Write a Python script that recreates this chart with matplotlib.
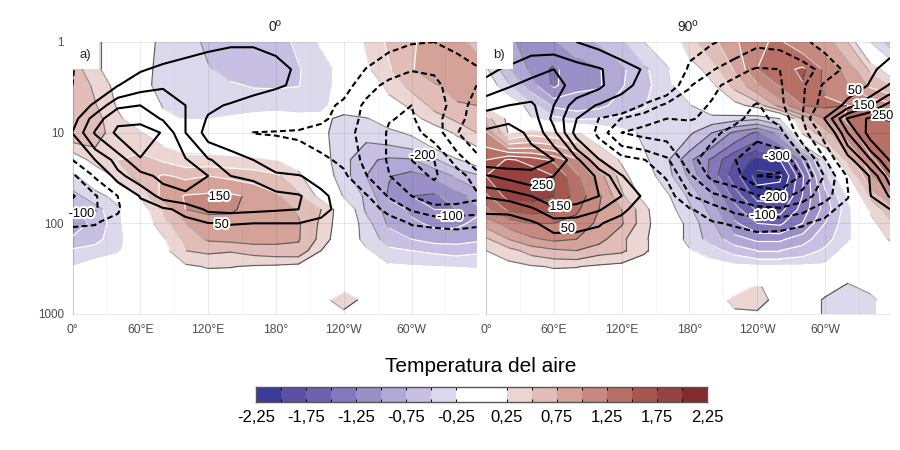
#!/usr/bin/env python3
"""Temperature and geopotential anomaly cross sections, lon vs pressure."""

import matplotlib
matplotlib.use("Agg")
import matplotlib.pyplot as plt
import matplotlib.patheffects as pe
from matplotlib.collections import LineCollection
from matplotlib.colors import ListedColormap, BoundaryNorm
import numpy as np

plt.rcParams["font.family"] = ["Liberation Sans", "DejaVu Sans"]

lon = [0, 20, 40, 60, 80, 100, 120, 140, 160, 180, 200, 220, 240, 260, 280, 300, 320, 340, 357.5]
lev = [1, 2, 3, 5, 7, 10, 20, 30, 50, 70, 100, 150, 200, 300, 500, 700, 1000]

# air temperature, panel a
temp_a = [
    [.6, .3, .1, -.15, -.3, -.4, -.55, -.65, -.7, -.6, -.45, -.22, .0, .3, .55, .72, .85, .8, .7],
    [.65, .3, .1, -.15, -.33, -.4, -.48, -.58, -.62, -.6, -.52, -.35, -.15, .2, .47, .73, .9, .95, .85],
    [.7, .45, .15, -.18, -.32, -.38, -.42, -.47, -.52, -.53, -.51, -.32, -.18, .03, .33, .58, .72, .85, .9],
    [.7, .52, .22, .05, -.27, -.3, -.33, -.35, -.34, -.32, -.31, -.3, -.15, .0, .13, .3, .58, .72, .75],
    [.75, .6, .3, .08, -.17, -.27, -.26, -.22, -.17, -.15, -.2, -.2, -.3, -.27, -.1, .15, .38, .55, .6],
    [.7, .6, .38, .27, .1, .0, .0, -.05, -.05, -.05, -.1, -.2, -.35, -.42, -.32, -.2, .05, .3, .5],
    [.0, .38, .5, .6, .47, .35, .35, .33, .3, .25, .15, -.12, -.42, -.7, -.8, -.78, -.55, -.28, -.1],
    [-.3, -.05, .35, .6, .78, .7, .75, .7, .65, .55, .3, -.05, -.4, -.75, -.98, -1.1, -.95, -.7, -.55],
    [-.6, -.35, -.15, .28, .85, 1.02, 1.05, 1.05, .95, .8, .55, .15, -.27, -.55, -1.05, -1.25, -1.3, -1.1, -.9],
    [-.8, -.6, -.3, .08, .55, 1.0, 1.05, 1.02, .95, .85, .72, .5, .05, -.55, -.85, -1.05, -1.25, -1.25, -1.05],
    [-.85, -.7, -.32, .05, .4, .75, .9, .95, .9, .85, .78, .45, .05, -.4, -.8, -.95, -1.05, -1.05, -.95],
    [-.72, -.58, -.35, .0, .2, .6, .78, .82, .85, .82, .77, .42, .0, -.35, -.6, -.75, -.85, -.85, -.8],
    [-.45, -.4, -.3, .0, .15, .5, .55, .52, .6, .65, .68, .25, .0, -.2, -.45, -.5, -.55, -.6, -.55],
    [-.25, -.1, 0, 0, 0, .2, .27, .26, .22, .2, .15, .1, -.05, -.12, -.2, -.23, -.25, -.26, -.27],
    [0, 0, 0, 0, 0, 0, 0, 0, 0, 0, 0, .05, .16, .05, 0, 0, 0, 0, 0],
    [0, 0, 0, 0, 0, 0, 0, 0, 0, 0, 0, .14, .42, .14, 0, 0, 0, 0, 0],
    [0, 0, 0, 0, 0, 0, 0, 0, 0, 0, 0, .05, .16, .05, 0, 0, 0, 0, 0],
]

# air temperature, panel b
temp_b = [
    [-.75, -.95, -1.1, -1.02, -.9, -.72, -.55, -.25, -.02, .4, .68, .95, 1.22, 1.28, 1.1, .88, .5, -.25, -.6],
    [-.2, -.72, -1.05, -1.3, -1.1, -1.02, -.8, -.55, -.3, .1, .38, .78, 1.25, 1.4, 1.55, 1.2, .9, .45, .05],
    [-.05, -.45, -.9, -1.3, -1.05, -1.03, -.77, -.6, -.3, -.1, .2, .58, .95, 1.28, 1.48, 1.2, 1.0, .7, .55],
    [.15, .05, -.4, -.8, -.88, -.82, -.65, -.52, -.28, -.27, .0, .15, .37, .85, 1.25, 1.3, 1.25, 1.2, 1.1],
    [.6, .18, -.22, -.42, -.55, -.5, -.45, -.4, -.3, -.3, -.35, -.4, -.45, -.25, .55, 1.0, 1.3, 1.4, 1.45],
    [1.05, .22, .4, .35, .28, .05, -.15, -.3, -.35, -.45, -.75, -1.05, -1.3, -.9, .3, .65, 1.15, 1.4, 1.5],
    [1.5, 1.8, 1.65, 1.45, 1.05, .55, .2, -.2, -.45, -.95, -1.3, -1.75, -2.1, -2.0, -1.25, -.25, .6, 1.2, 1.4],
    [1.75, 2.0, 1.95, 1.75, 1.3, .85, .4, -.1, -.4, -.8, -1.35, -1.9, -2.35, -2.3, -1.55, -.6, .2, 1.0, 1.3],
    [1.45, 1.85, 1.85, 1.75, 1.4, 1.05, .55, .15, -.2, -.55, -1.0, -1.6, -2.1, -2.1, -1.5, -.85, -.2, .55, .95],
    [1.2, 1.55, 1.6, 1.55, 1.3, 1.0, .75, .35, -.12, -.45, -.85, -1.4, -1.8, -1.85, -1.4, -.9, -.35, .3, .65],
    [.85, 1.1, 1.25, 1.25, 1.15, .95, .78, .35, .0, -.35, -.7, -1.2, -1.5, -1.55, -1.25, -.75, -.33, .15, .45],
    [.45, .75, .95, 1.05, 1.0, .85, .55, .3, .0, -.35, -.6, -.9, -1.05, -1.05, -.85, -.6, -.3, .0, .28],
    [.25, .4, .6, .7, .75, .6, .55, .3, .0, -.22, -.4, -.6, -.75, -.75, -.65, -.45, -.15, 0, 0],
    [.1, .15, .22, .27, .26, .2, .15, .05, 0, 0, -.1, -.18, -.2, -.2, -.2, -.2, -.05, 0, 0],
    [0, 0, 0, 0, 0, 0, 0, 0, 0, 0, 0, .1, .3, .05, 0, -.1, -.3, -.15, 0],
    [0, 0, 0, 0, 0, 0, 0, 0, 0, 0, .05, .35, .38, .12, 0, -.3, -.4, -.35, -.05],
    [0, 0, 0, 0, 0, 0, 0, 0, 0, 0, .05, .18, .2, .05, 0, -.3, -.4, -.35, -.05],
]

# geopotential height, panel a
hgt_a = [
    [-30, -10, 0, 10, 20, 30, 40, 45, 45, 35, 20, 5, -5, -20, -35, -47, -50, -40, -25],
    [-52, -20, 25, 45, 60, 70, 75, 80, 80, 70, 40, 10, -15, -52, -85, -98, -95, -70, -55],
    [-50, 10, 48, 80, 95, 90, 85, 80, 70, 58, 40, 10, -25, -85, -110, -120, -110, -80, -50],
    [10, 60, 140, 150, 130, 100, 60, 45, 25, 5, -5, -25, -65, -110, -145, -150, -130, -75, -30],
    [25, 125, 190, 180, 145, 100, 45, 25, 10, 0, -20, -40, -70, -115, -148, -155, -120, -65, -30],
    [52, 155, 210, 235, 195, 100, 30, 15, -52, -56, -58, -70, -85, -115, -155, -165, -130, -52, -25],
    [-50, 50, 120, 195, 197, 155, 105, 75, 50, 20, -20, -40, -60, -115, -155, -200, -200, -130, -62],
    [-110, -45, 85, 130, 165, 175, 150, 100, 92, 60, 55, 20, -40, -98, -148, -185, -205, -175, -125],
    [-155, -105, -50, 55, 120, 140, 145, 150, 130, 115, 105, 70, 10, -45, -105, -150, -175, -175, -160],
    [-125, -105, -60, 20, 40, 65, 110, 115, 110, 105, 100, 75, 20, -25, -65, -105, -135, -130, -125],
    [-55, -52, -25, 5, 20, 35, 48, 52, 50, 50, 50, 30, 10, -10, -25, -53, -58, -60, -55],
    [-30, -30, -15, 0, 10, 15, 20, 25, 25, 25, 25, 15, 5, -5, -12, -20, -25, -30, -30],
    [-15, -15, -8, 0, 5, 8, 10, 12, 12, 12, 12, 8, 2, -2, -6, -10, -12, -15, -15],
    [-5, -5, -2, 0, 2, 2, 4, 4, 4, 4, 4, 2, 0, 0, -2, -3, -4, -5, -5],
    [0, 0, 0, 0, 0, 0, 0, 0, 0, 0, 0, 0, 0, 0, 0, 0, 0, 0, 0],
    [0, 0, 0, 0, 0, 0, 0, 0, 0, 0, 0, 0, 0, 0, 0, 0, 0, 0, 0],
    [0, 0, 0, 0, 0, 0, 0, 0, 0, 0, 0, 0, 0, 0, 0, 0, 0, 0, 0],
]

# geopotential height, panel b
hgt_b = [
    [45, 55, 75, 70, 50, 35, 15, -5, -20, -35, -47, -60, -90, -85, -58, -35, -10, 15, 30],
    [85, 110, 135, 150, 125, 105, 75, 45, 10, -58, -95, -135, -155, -150, -125, -80, -38, 40, 70],
    [118, 145, 165, 165, 135, 110, 65, 35, 0, -95, -140, -165, -170, -155, -108, -40, 10, 55, 105],
    [185, 200, 210, 150, 75, 45, 25, -60, -115, -130, -155, -175, -205, -160, -105, -20, 75, 145, 225],
    [225, 240, 230, 135, 52, -52, -102, -135, -150, -148, -155, -190, -215, -185, -100, 55, 205, 260, 245],
    [260, 270, 240, 165, 30, -70, -150, -165, -170, -165, -190, -215, -238, -215, -120, -25, 150, 275, 280],
    [285, 285, 270, 250, 165, 55, -25, -48, -90, -185, -225, -248, -285, -285, -215, -105, 20, 145, 255],
    [195, 215, 235, 200, 190, 140, 55, -25, -55, -140, -215, -230, -300, -305, -245, -145, -45, 55, 180],
    [105, 120, 150, 185, 170, 150, 100, 40, -25, -95, -135, -165, -195, -220, -175, -120, -55, 48, 105],
    [60, 60, 90, 140, 135, 105, 65, 15, -15, -45, -75, -115, -135, -140, -115, -70, -25, 20, 50],
    [25, 30, 40, 75, 70, 55, 25, 5, -5, -25, -45, -55, -70, -65, -55, -35, -10, 5, 15],
    [10, 15, 20, 30, 30, 25, 15, 5, 0, -10, -20, -25, -30, -30, -25, -15, -5, 5, 8],
    [5, 8, 10, 15, 15, 12, 8, 2, 0, -5, -10, -12, -15, -15, -12, -8, -2, 2, 4],
    [2, 2, 4, 4, 4, 4, 2, 0, 0, -2, -3, -4, -5, -5, -4, -2, 0, 0, 0],
    [0, 0, 0, 0, 0, 0, 0, 0, 0, 0, 0, 0, 0, 0, 0, 0, 0, 0, 0],
    [0, 0, 0, 0, 0, 0, 0, 0, 0, 0, 0, 0, 0, 0, 0, 0, 0, 0, 0],
    [0, 0, 0, 0, 0, 0, 0, 0, 0, 0, 0, 0, 0, 0, 0, 0, 0, 0, 0],
]

temp_levels = [-2.25, -2, -1.75, -1.5, -1.25, -1, -.75, -.5, -.25, .25, .5, .75, 1, 1.25, 1.5, 1.75, 2, 2.25]
temp_colors = ["#3A3A98", "#5A50A4", "#6E62B0", "#8477BC", "#9A8FC7", "#B1A8D6", "#C8C0E3", "#DDD9ED", "#FFFFFF",
               "#ECD6D3", "#E2BDB7", "#D5A29A", "#C6897F", "#B67065", "#A6584F", "#964240", "#832A2A"]
cbar_ticks = [-2.25, -1.75, -1.25, -.75, -.25, .25, .75, 1.25, 1.75, 2.25]
hgt_levels = [-350, -300, -250, -200, -150, -100, -50, 50, 100, 150, 200, 250, 300]

lon_ticks = [0, 60, 120, 180, 240, 300]
lon_minor = [30, 90, 150, 210, 270, 330]
lon_labels = ["0°", "60°E", "120°E", "180°", "120°W", "60°W"]
lev_ticks = [1, 10, 100, 1000]

labels_a = [(130, 197, "150"), (132, 225, "50"), (8, 214, "-100"), (310, 156, "-200"), (334, 217, "-100")]
labels_b = [(50, 186, "250"), (65.5, 207, "150"), (72.5, 229, "50"), (257.5, 157, "-300"), (255, 198, "-200"),
            (245, 216, "-100"), (326.5, 91, "50"), (334.5, 106, "150"), (351, 116, "250")]


def lev_at(ypix):
    # label rows are read in picture pixels down from the 1 hPa line
    return 10 ** ((ypix - 42) / 90.7)


def lit_edges(ax, cs):
    """Draw the band edges lit from one side, dark facing up-left, white facing down-right."""
    trans = ax.transData
    for path in cs.get_paths():
        if len(path.vertices) < 2:
            continue
        for part in path.to_polygons(closed_only=False):
            if len(part) < 2:
                continue
            pix = trans.transform(part)
            d = np.diff(pix, axis=0)
            norm = np.hypot(d[:, 0], d[:, 1])
            norm[norm == 0] = 1
            gx, gy = d[:, 1] / norm, -d[:, 0] / norm
            shade = (-gx + gy) / np.sqrt(2)
            grey = np.clip(0.74 - 0.5 * shade, 0.3, 1.0)
            segs = np.stack([part[:-1], part[1:]], axis=1)
            lc = LineCollection(segs, colors=np.column_stack([grey, grey, grey]), linewidths=0.85,
                                zorder=3, capstyle="round")
            ax.add_collection(lc, autolim=False)


def draw_panel(ax, temp, hgt, title, tag, labels, show_y):
    cmap = ListedColormap(temp_colors)
    cmap.set_under(temp_colors[0])
    cmap.set_over(temp_colors[-1])
    norm = BoundaryNorm(temp_levels, cmap.N)

    ax.set_yscale("log")
    ax.set_xlim(0, 357.5)
    ax.set_ylim(1000, 1)

    ax.contourf(lon, lev, temp, levels=temp_levels, cmap=cmap, norm=norm, extend="both", zorder=1)
    edges = ax.contour(lon, lev, temp, levels=temp_levels, colors="none", zorder=1)
    lit_edges(ax, edges)

    # grid sits over the fill
    for x in lon_ticks:
        ax.axvline(x, color="#000000", alpha=0.09, lw=0.7, zorder=2)
    for x in lon_minor:
        ax.axvline(x, color="#000000", alpha=0.05, lw=0.5, zorder=2)
    for y in lev_ticks:
        ax.axhline(y, color="#000000", alpha=0.09, lw=0.7, zorder=2, clip_on=False)
    ax.axvline(0, color="#000000", alpha=0.12, lw=0.8, zorder=2, clip_on=False)

    ax.contour(lon, lev, hgt, levels=[v for v in hgt_levels if v > 0], colors="black", linewidths=1.5,
               linestyles="solid", zorder=4)
    ax.contour(lon, lev, hgt, levels=[v for v in hgt_levels if v < 0], colors="black", linewidths=1.5,
               linestyles=[(0, (2.8, 1.6))], zorder=4)

    for x, y, s in labels:
        ax.text(x, lev_at(y), s, fontsize=9.2, ha="center", va="center", zorder=6,
                path_effects=[pe.withStroke(linewidth=3, foreground="white")])

    ax.text(6.5, lev_at(55), tag, fontsize=9.4, color="#222222", ha="left", va="center", zorder=7,
            bbox=dict(facecolor="white", edgecolor="none", pad=5.5))

    ax.set_title(title, fontsize=10, color="#222222", pad=8)
    ax.set_xticks(lon_ticks)
    ax.set_xticklabels(lon_labels, fontsize=8.7, color="#4d4d4d")
    ax.set_yticks(lev_ticks)
    ax.minorticks_off()
    if show_y:
        ax.set_yticklabels([str(v) for v in lev_ticks], fontsize=8.4, color="#4d4d4d")
    else:
        ax.set_yticklabels([])
    ax.tick_params(length=0, pad=7)
    ax.tick_params(axis="y", pad=6)
    for spine in ax.spines.values():
        spine.set_visible(False)


fig = plt.figure(figsize=(9, 4.5), dpi=100)
ax_a = fig.add_axes([72.5 / 900, 136 / 450, 404 / 900, 272 / 450])
ax_b = fig.add_axes([486 / 900, 136 / 450, 404 / 900, 272 / 450])
draw_panel(ax_a, temp_a, hgt_a, "0º", "a)", labels_a, True)
draw_panel(ax_b, temp_b, hgt_b, "90º", "b)", labels_b, False)

# discrete colour bar
cax = fig.add_axes([256 / 900, 48 / 450, 451 / 900, 15 / 450])
for left, right, colour in zip(temp_levels[:-1], temp_levels[1:], temp_colors):
    cax.barh(0.5, right - left, left=left, height=1, color=colour, edgecolor="none")
inner = [v for v in temp_levels[1:-1]]
cax.vlines(inner, 0, 0.2, color="black", lw=0.7)
cax.vlines(inner, 0.8, 1, color="black", lw=0.7)
cax.set_xlim(-2.25, 2.25)
cax.set_ylim(0, 1)
cax.set_yticks([])
cax.set_xticks(cbar_ticks)
cax.set_xticklabels([f"{v:.2f}".replace(".", ",") for v in cbar_ticks], fontsize=12, color="black")
cax.tick_params(length=0, pad=6)
for spine in cax.spines.values():
    spine.set_color("#555555")
    spine.set_linewidth(1.0)
fig.text(481 / 900, 1 - 366 / 450, "Temperatura del aire", fontsize=15, ha="center", va="center", color="black")

fig.savefig("out.png", dpi=100)
plt.close(fig)
